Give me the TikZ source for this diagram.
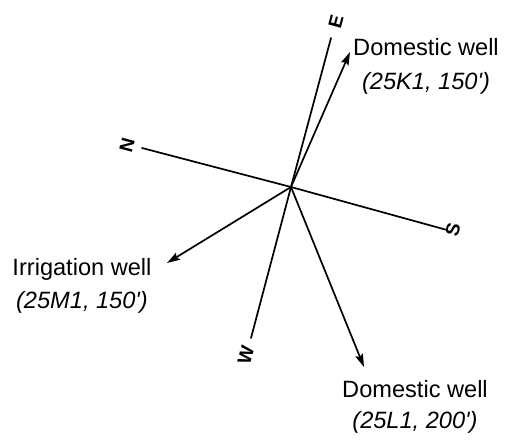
\documentclass[tikz,border=0pt]{standalone}
\usepackage{fontspec}
\newfontfamily\lab{Liberation Sans}
\usetikzlibrary{arrows.meta}
\begin{document}
\begin{tikzpicture}[x=1pt,y=1pt,
  axis/.style={line width=1.7pt,line cap=round},
  well/.style={line width=1.7pt,-{Stealth[length=13pt,width=8pt,inset=2pt]}},
  dir/.style={font=\lab\bfseries\fontsize{19}{19}\selectfont,rotate=75,inner sep=0pt},
  txt/.style={font=\lab\fontsize{23.6}{26}\selectfont,anchor=base,inner sep=0pt},
  itxt/.style={txt,font=\lab\itshape\fontsize{23.6}{26}\selectfont}]
\useasboundingbox (0,0) rectangle (523,-445);
\coordinate (C) at (291,-187);
\coordinate (Ne) at (142,-148);
\coordinate (Ee) at (331,-38);
\coordinate (Se) at (447,-230);
\coordinate (We) at (251,-338);
\coordinate (K1) at (350,-52);
\coordinate (M1) at (167,-263);
\coordinate (L1) at (364,-367);
\draw[axis] (Ne) -- (C) -- (Se);
\draw[axis] (Ee) -- (C) -- (We);
\node[dir] (N) at (127,-145) {N};
\node[dir] (E) at (336,-22) {E};
\node[dir] (S) at (453,-230) {S};
\node[dir] (W) at (246,-355) {W};
\draw[well] (C) -- (K1);
\draw[well] (C) -- (M1);
\draw[well] (C) -- (L1);
\node[txt] (t1) at (426,-55) {Domestic well};
\node[itxt] (t1b) at (426,-89) {(25K1, 150')};
\node[txt] (t2) at (82,-275) {Irrigation well};
\node[itxt] (t2b) at (82,-308) {(25M1, 150')};
\node[txt] (t3) at (415,-397) {Domestic well};
\node[itxt] (t3b) at (415,-428) {(25L1, 200')};
\end{tikzpicture}
\end{document}
